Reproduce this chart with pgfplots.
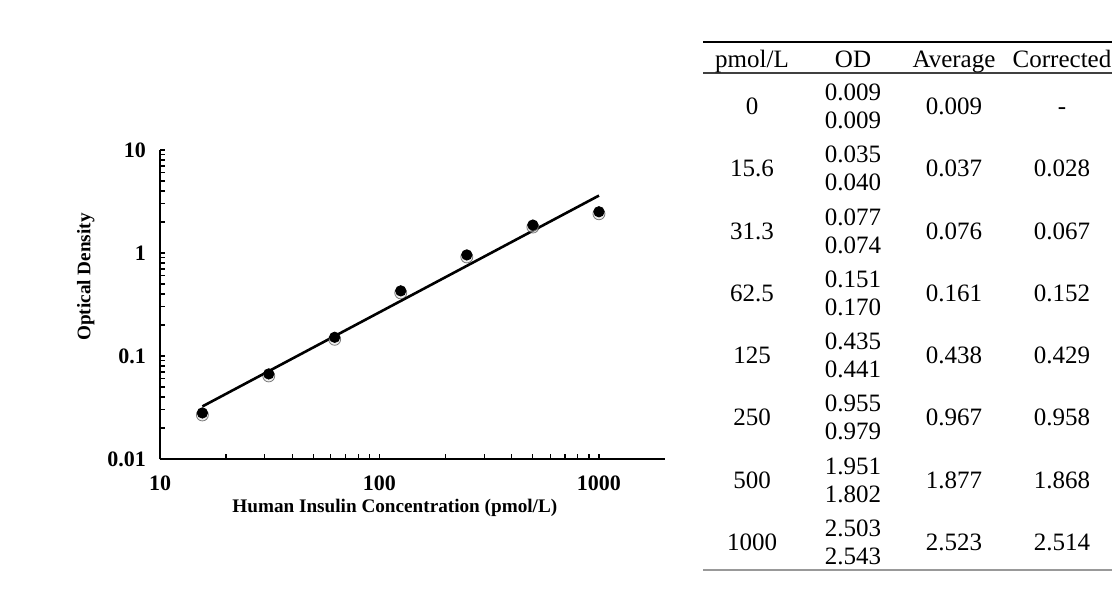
\documentclass[border=0pt]{standalone}
\usepackage{pgfplots}
\pgfplotsset{compat=1.18}
\usepackage{fontspec}
\setmainfont{Liberation Serif}
\begin{document}
\begin{tikzpicture}
\useasboundingbox (0,0) rectangle (557.5pt,-296.5pt);
\begin{axis}[
    at={(80pt,-229.5pt)}, anchor=south west,
    scale only axis,
    width=252.5pt, height=154.5pt,
    xmode=log, ymode=log,
    xmin=10, xmax=2000,
    ymin=0.01, ymax=10,
    axis x line*=bottom, axis y line*=left,
    axis line style={line width=0.8pt},
    xtick={10,100,1000}, ytick={0.01,0.1,1,10},
    xticklabels={10,100,1000}, yticklabels={0.01,0.1,1,10},
    tick align=inside,
    major tick length=2.3pt, minor tick length=2.3pt,
    every tick/.style={black,line width=0.6pt},
    /pgf/number format/assume math mode=true,
    tick label style={font=\bfseries\fontsize{11}{13}\selectfont},
    xticklabel style={yshift=-5pt},
    yticklabel style={xshift=-3.5pt},
    xlabel={Human Insulin Concentration (pmol/L)},
    ylabel={Optical Density},
    label style={font=\bfseries\fontsize{9.6}{11}\selectfont},
    xlabel style={at={(axis description cs:0.465,-0.159)}, anchor=center},
    ylabel style={at={(axis description cs:-0.147,0.589)}, anchor=center},
]
% soft shadow of the points
\addplot[only marks, mark=*, mark size=3pt, draw=none, fill=gray!25, opacity=0.5,
    every mark/.append style={yshift=-1pt, draw=none}] coordinates {
    (15.6,0.028)(31.3,0.067)(62.5,0.152)(125,0.429)(250,0.958)(500,1.868)(1000,2.514)
};
% fitted line
\addplot[black, line width=1.3pt, no marks] coordinates {
    (15.6,0.0324)(1000,3.61)
};
\addplot[only marks, mark=*, mark size=2.6pt, black] coordinates {
    (15.6,0.028)(31.3,0.067)(62.5,0.152)(125,0.429)(250,0.958)(500,1.868)(1000,2.514)
};
\end{axis}

\begin{scope}[x=0.5pt, y=-0.5pt,
    tab/.style={inner sep=0pt, text height=8.5pt, text depth=0pt,
        font=\fontsize{12.5}{15}\selectfont}]
\draw[line width=0.6pt] (703,42) -- (1112,42);
\draw[line width=0.8pt, black!75] (703,73) -- (1112,73);
\draw[line width=1pt, black!40] (703,570) -- (1112,570);
\node[tab] at (752,59) {pmol/L};
\node[tab] at (853,59) {OD};
\node[tab] at (954,59) {Average};
\node[tab] at (1062,59) {Corrected};
\foreach \g/\c/\a/\b/\av/\co in {
    0/0/0.009/0.009/0.009/-,
    1/15.6/0.035/0.040/0.037/0.028,
    2/31.3/0.077/0.074/0.076/0.067,
    3/62.5/0.151/0.170/0.161/0.152,
    4/125/0.435/0.441/0.438/0.429,
    5/250/0.955/0.979/0.967/0.958,
    6/500/1.951/1.802/1.877/1.868,
    7/1000/2.503/2.543/2.523/2.514} {
    \pgfmathsetmacro\ya{92+62.3*\g}
    \node[tab] at (752,{\ya+14}) {\c};
    \node[tab] at (853,{\ya}) {\a};
    \node[tab] at (853,{\ya+28}) {\b};
    \node[tab] at (954,{\ya+14}) {\av};
    \node[tab] at (1062,{\ya+14}) {\co};
}
\end{scope}
\end{tikzpicture}
\end{document}
